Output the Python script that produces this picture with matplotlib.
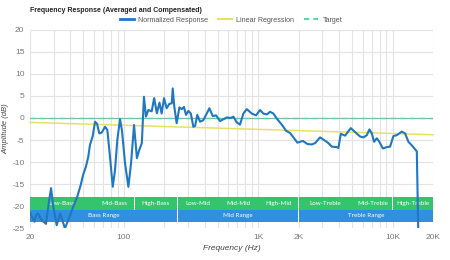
import matplotlib
matplotlib.use("Agg")
import matplotlib.pyplot as plt
from matplotlib.lines import Line2D

# ---- data ----
freq = [20, 20.7, 21.6, 22.2, 22.9, 24.2, 26.3, 27.8, 28.7, 29.8, 31.6, 33.5, 36.4, 38.6,
        42.0, 45.0, 47.7, 49.6, 52.2, 54.3, 55.9, 58.6, 61.0, 63.1, 65.6, 68.4, 72.4, 75.3,
        78.8, 82.6, 85.9, 89.3, 93.6, 96.8, 102, 108, 113, 119, 125, 130, 136, 141, 146,
        152, 161, 168, 176, 184, 191, 199, 208, 218, 227, 231, 237, 247, 259, 270, 280,
        290, 302, 315, 329, 339, 352, 369, 390, 409, 433, 459, 485, 520, 550, 583, 624,
        653, 692, 732, 775, 822, 895, 963, 1032, 1092, 1158, 1225, 1296, 1388, 1497, 1611,
        1726, 1849, 1956, 2146, 2322, 2505, 2650, 2886, 3092, 3329, 3529, 3844, 3951, 4118,
        4433, 4887, 5260, 5731, 6065, 6430, 6722, 7006, 7287, 7632, 7980, 8458, 9057, 9586,
        10144, 10754, 11720, 12400, 13118, 13906, 14716, 15154, 15628]
response = [-21.5, -22.5, -23.5, -22.0, -21.6, -23.0, -24.0, -18.6, -15.9, -20.1, -24.3, -21.6,
            -25.0, -23.1, -20.1, -17.8, -15.2, -13.0, -11.0, -8.8, -6.1, -4.1, -0.85, -1.3,
            -3.5, -3.3, -2.0, -2.7, -8.8, -15.6, -11.8, -5.0, -0.3, -2.9, -10.3, -15.6, -10.3,
            -1.6, -9.1, -7.3, -5.7, 4.8, 0.3, 1.8, 1.5, 4.5, 1.05, 3.5, 1.0, 4.5, 2.2, 3.2, 3.3,
            6.7, 2.7, -1.2, 2.4, 2.0, 2.5, 0.7, 1.6, 1.0, -2.0, -1.8, 0.7, -0.85, -0.5, 0.7,
            2.2, 0.4, 0.6, -0.7, -0.3, 0.1, 0.0, 0.3, -1.0, -1.5, 1.0, 2.0, 1.0, 0.6, 1.8, 1.0,
            0.8, 1.4, 1.0, -0.3, -1.5, -2.9, -3.4, -4.6, -5.6, -5.2, -5.9, -6.0, -5.7, -4.4,
            -5.0, -5.7, -6.5, -6.6, -6.8, -3.6, -4.0, -2.3, -3.2, -4.2, -4.4, -3.9, -2.6, -3.5,
            -5.4, -4.6, -5.4, -6.9, -6.6, -6.5, -4.1, -3.9, -3.1, -3.5, -5.4, -6.2, -7.1, -7.6,
            -30.0]

regression_freq = [20, 20000]
regression_db = [-1.0, -3.8]
target_freq = [20, 20000]
target_db = [0, 0]

band_names = ["Low-Bass", "Mid-Bass", "High-Bass", "Low-Mid", "Mid-Mid", "High-Mid",
              "Low-Treble", "Mid-Treble", "High-Treble"]
band_edges = [20, 60, 120, 250, 500, 1000, 2000, 5000, 10000, 20000]
range_names = ["Bass Range", "Mid Range", "Treble Range"]
range_edges = [20, 250, 2000, 20000]

xtick_vals = [20, 100, 1000, 2000, 10000, 20000]
xtick_labels = ["20", "100", "1K", "2K", "10K", "20K"]
ytick_vals = [20, 15, 10, 5, 0, -5, -10, -15, -20, -25]

# ---- style ----
plt.rcParams['font.family'] = ['Liberation Sans', 'DejaVu Sans']
BLUE = "#1f78c1"
YELLOW = "#e6e169"
TEAL = "#5fd3a8"
GREEN_BAND = "#34c46e"
BLUE_BAND = "#2e8fe3"
GRID = "#e3e3e3"
TICK = "#777777"

fig = plt.figure(figsize=(4.5, 2.6), dpi=100)
ax = fig.add_axes([30/450, 1-228.3/260, 403/450, (228.3-29.7)/260])
ax.set_xscale("log")
ax.set_xlim(20, 20000)
ax.set_ylim(-25, 20)

# grid
minor = [f * 10**k for k in range(1, 5) for f in range(1, 10) if 20 <= f * 10**k <= 20000]
for f in minor:
    ax.axvline(f, color=GRID, lw=0.8, zorder=0)
for y in ytick_vals:
    ax.axhline(y, color=GRID, lw=0.8, zorder=0)

for s in ax.spines.values():
    s.set_visible(False)

# bands
for i, name in enumerate(band_names):
    x0, x1 = band_edges[i], band_edges[i+1]
    ax.fill_between([x0*1.004 if i else x0, x1/1.004 if i < len(band_names)-1 else x1],
                    -20.75, -18.0, color=GREEN_BAND, lw=0, zorder=1)
    xm = (x0*x1) ** 0.5
    ax.text(xm, -19.35, name, ha="center", va="center", color="white", fontsize=4.5,
            family=["Lato", "DejaVu Sans"], zorder=2)
for i, name in enumerate(range_names):
    x0, x1 = range_edges[i], range_edges[i+1]
    ax.fill_between([x0*1.004 if i else x0, x1/1.004 if i < len(range_names)-1 else x1],
                    -23.55, -20.9, color=BLUE_BAND, lw=0, zorder=1)
    xm = (x0*x1) ** 0.5
    ax.text(xm, -22.2, name, ha="center", va="center", color="white", fontsize=4.5,
            family=["Lato", "DejaVu Sans"], zorder=2)

# lines
ax.axhline(0, color="#9aa8a0", lw=0.8, zorder=2)
ax.plot(target_freq, target_db, color=TEAL, lw=1.0, ls=(0, (4, 3)), zorder=3)
ax.plot(regression_freq, regression_db, color=YELLOW, lw=1.1, zorder=3, clip_on=False)
ax.plot(freq, response, color=BLUE, lw=1.5, zorder=4, solid_joinstyle="round")

# ticks
ax.set_xticks(xtick_vals)
ax.set_xticklabels(xtick_labels)
ax.set_xticks([], minor=True)
ax.set_yticks(ytick_vals)
ax.set_yticklabels([str(v) for v in ytick_vals])
ax.tick_params(axis="both", length=0, labelsize=6, labelcolor=TICK, pad=4)

ax.set_xlabel("Frequency (Hz)", fontsize=6, style="italic", color="#444444", labelpad=3)
ax.set_ylabel("Amplitude (dB)", fontsize=5.5, style="italic", color="#444444", labelpad=2)

fig.text(30/450, 1-10/260, "Frequency Response (Averaged and Compensated)", fontsize=5.0,
         fontweight="bold", color="#222222", va="center", ha="left")

handles = [Line2D([], [], color=BLUE, lw=2),
           Line2D([], [], color=YELLOW, lw=1.5),
           Line2D([], [], color=TEAL, lw=1.5, ls=(0, (2.5, 2)))]
fig.legend(handles, ["Normalized Response", "Linear Regression", "Target"],
           loc="center", bbox_to_anchor=(231/450, 1-20/260), ncol=3, frameon=False,
           fontsize=5.1, labelcolor="#555555", handlelength=2.0, columnspacing=1.4,
           handletextpad=0.6)

fig.savefig("out.png", dpi=100)
